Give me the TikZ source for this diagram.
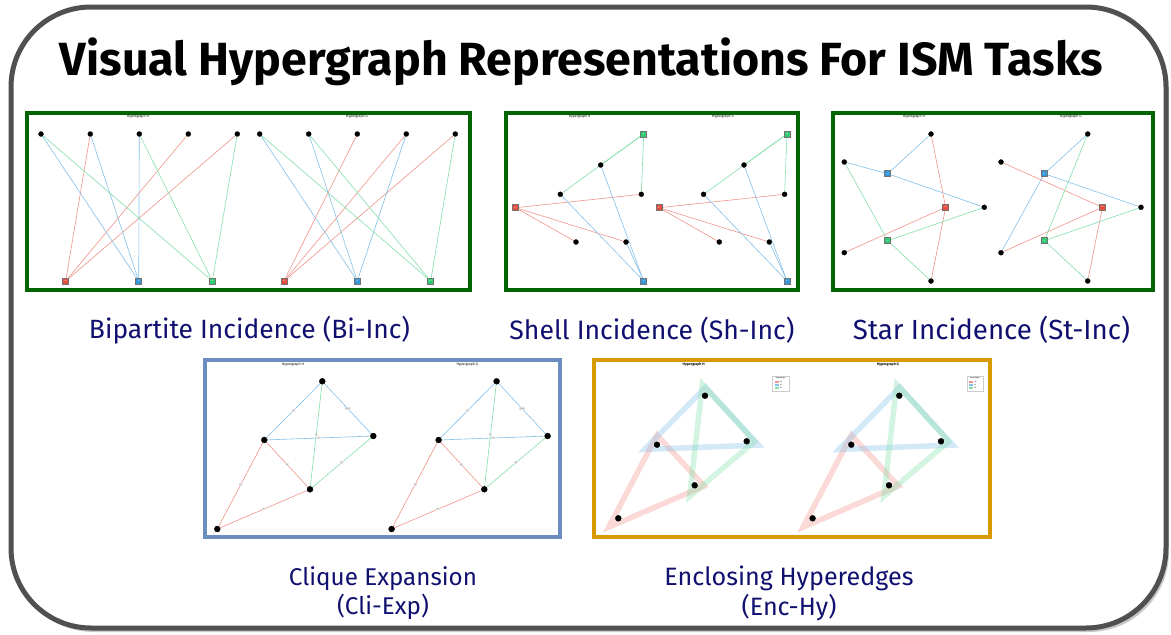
\documentclass[tikz,border=0pt]{standalone}
\usepackage{fontspec}
\setmainfont{Fira Sans}
\usetikzlibrary{shadows,calc}
\pgfdeclarelayer{back}
\pgfdeclarelayer{bg}
\pgfsetlayers{back,bg,main}
\definecolor{framegray}{RGB}{80,80,80}
\definecolor{navyc}{RGB}{16,16,112}
\definecolor{pgreen}{RGB}{0,100,0}
\definecolor{pblue}{RGB}{108,142,191}
\definecolor{porange}{RGB}{215,155,0}
\definecolor{ered}{RGB}{241,148,138}
\definecolor{eblue}{RGB}{133,193,233}
\definecolor{egreen}{RGB}{130,224,170}
\definecolor{sred}{RGB}{231,76,60}
\definecolor{sblue}{RGB}{52,152,219}
\definecolor{sgreen}{RGB}{46,204,113}
\tikzset{
  vtx/.style={circle,fill=black,draw=black,line width=0.3pt,inner sep=0pt,minimum size=5pt},
  bvtx/.style={vtx,minimum size=6pt},
  hsq/.style={rectangle,draw=black!55,line width=0.5pt,inner sep=0pt,minimum size=6pt,
              text=white,font=\fontsize{2}{2}\selectfont},
  ed/.style={line width=0.6pt},
  band/.style={line width=5.5pt,opacity=0.35,line join=miter},
  ptitle/.style={inner sep=0pt,font=\fontsize{3.5}{4}\selectfont},
  elab/.style={fill=gray!22,inner sep=0.5pt,text=gray,font=\fontsize{2}{2}\selectfont},
  lbl/.style={inner sep=0pt,text=navyc},
  panelG/.style={draw=pgreen,line width=4pt},
  panelB/.style={draw=pblue,line width=4pt},
  panelO/.style={draw=porange,line width=4pt},
  legbox/.style={draw=gray!40,line width=0.3pt,fill=white},
  legtxt/.style={inner sep=0pt,font=\fontsize{1.8}{2}\selectfont},
}
\begin{document}
\begin{tikzpicture}[x=1pt,y=-1pt]
\useasboundingbox (0,0) rectangle (1171,635);
% outer frame
\begin{pgfonlayer}{back}
\draw[line width=5pt,draw=framegray,fill=white,rounded corners=80pt,
      drop shadow={shadow xshift=3pt,shadow yshift=-4pt,opacity=0.3,fill=black!70}]
  (11,7) rectangle (1166,628);
\end{pgfonlayer}
% title
\node[inner sep=0pt] (title) at (581.5,62)
  {\resizebox{1043pt}{!}{\bfseries Visual Hypergraph Representations For ISM Tasks}};

% ---------------- Panel 1: Bi-Inc ----------------
\node[ptitle] (t1h) at (138,117) {Hypergraph H};
\node[ptitle] (t1g) at (357,117) {Hypergraph G};
\foreach \i/\x in {1/41,2/90.3,3/139.3,4/188.3,5/237.3}{\node[vtx] (h1v\i) at (\x,134) {};}
\foreach \i/\x in {1/259.7,2/308.7,3/357.3,4/406.3,5/455.3}{\node[vtx] (g1v\i) at (\x,134) {};}
\node[hsq,fill=sred]   (h1e0) at (65.7,281) {e0};
\node[hsq,fill=sblue]  (h1e1) at (138.7,281) {e1};
\node[hsq,fill=sgreen] (h1e2) at (212.3,281) {e2};
\node[hsq,fill=sred]   (g1e0) at (284,281) {e0};
\node[hsq,fill=sblue]  (g1e1) at (357.3,281) {e1};
\node[hsq,fill=sgreen] (g1e2) at (430.7,281) {e2};
\begin{pgfonlayer}{bg}
\foreach \v in {2,4,5}{\draw[ed,ered] (h1v\v) -- (h1e0);}
\foreach \v in {1,2,3}{\draw[ed,eblue] (h1v\v) -- (h1e1);}
\foreach \v in {1,3,5}{\draw[ed,egreen] (h1v\v) -- (h1e2);}
\foreach \v in {3,4,5}{\draw[ed,ered] (g1v\v) -- (g1e0);}
\foreach \v in {1,2,4}{\draw[ed,eblue] (g1v\v) -- (g1e1);}
\foreach \v in {1,2,5}{\draw[ed,egreen] (g1v\v) -- (g1e2);}
\end{pgfonlayer}
\draw[panelG] (27,113) rectangle (470,290);
\node[lbl] (lab1) at (249.5,330) {\resizebox{321pt}{!}{Bipartite Incidence (Bi-Inc)}};

% ---------------- Panel 2: Sh-Inc ----------------
\foreach \p/\dx/\T in {h/0/H,g/143.3/G}{
  \node[ptitle] (\p2t) at (579.7+\dx,117) {Hypergraph \T};
  \node[hsq,fill=sgreen] (\p2e2) at (643.7+\dx,134) {e2};
  \node[vtx] (\p2a) at (600.7+\dx,165) {};
  \node[vtx] (\p2b) at (560.3+\dx,194.3) {};
  \node[vtx] (\p2c) at (641.3+\dx,194.3) {};
  \node[hsq,fill=sred] (\p2e0) at (515.7+\dx,207.7) {e0};
  \node[vtx] (\p2d) at (576+\dx,242) {};
  \node[vtx] (\p2e) at (626+\dx,242) {};
  \node[hsq,fill=sblue] (\p2e1) at (643.7+\dx,281) {e1};
  \begin{pgfonlayer}{bg}
  \foreach \v in {a,b,c}{\draw[ed,egreen] (\p2e2) -- (\p2\v);}
  \foreach \v in {c,d,e}{\draw[ed,ered] (\p2e0) -- (\p2\v);}
  \foreach \v in {a,b,e}{\draw[ed,eblue] (\p2e1) -- (\p2\v);}
  \end{pgfonlayer}
}
\draw[panelG] (506,113) rectangle (798,290);
\node[lbl] (lab2) at (652,330) {\resizebox{285pt}{!}{Shell Incidence (Sh-Inc)}};

% ---------------- Panel 3: St-Inc ----------------
\foreach \p/\dx/\T in {h/0/H,g/156.7/G}{
  \node[ptitle] (\p3t) at (914+\dx,117) {Hypergraph \T};
  \node[vtx] (\p3n1) at (931+\dx,134) {};
  \node[vtx] (\p3n2) at (844.3+\dx,162) {};
  \node[hsq,fill=sblue] (\p3e1) at (887.7+\dx,173.7) {e1};
  \node[hsq,fill=sred] (\p3e0) at (945.7+\dx,207.3) {e0};
  \node[vtx] (\p3n3) at (984.3+\dx,207.3) {};
  \node[hsq,fill=sgreen] (\p3e2) at (887.7+\dx,240.7) {e2};
  \node[vtx] (\p3n4) at (844.3+\dx,252.7) {};
  \node[vtx] (\p3n5) at (931+\dx,281) {};
}
\begin{pgfonlayer}{bg}
\foreach \v in {1,2,3}{\draw[ed,eblue] (h3e1) -- (h3n\v);}
\foreach \v in {1,4,5}{\draw[ed,ered] (h3e0) -- (h3n\v);}
\foreach \v in {2,3,5}{\draw[ed,egreen] (h3e2) -- (h3n\v);}
\foreach \v in {1,3,4}{\draw[ed,eblue] (g3e1) -- (g3n\v);}
\foreach \v in {2,4,5}{\draw[ed,ered] (g3e0) -- (g3n\v);}
\foreach \v in {1,3,5}{\draw[ed,egreen] (g3e2) -- (g3n\v);}
\end{pgfonlayer}
\draw[panelG] (833,113) rectangle (1153,290);
\node[lbl] (lab3) at (991.5,330) {\resizebox{277pt}{!}{Star Incidence (St-Inc)}};

% ---------------- Panel 4: Cli-Exp ----------------
\foreach \p/\dx/\T in {h/0/H,g/174.3/G}{
  \node[ptitle] (\p4t) at (293+\dx,364.3) {Hypergraph \T};
  \node[bvtx] (\p4A) at (322.3+\dx,381.3) {};
  \node[bvtx] (\p4B) at (264.3+\dx,440) {};
  \node[bvtx] (\p4C) at (373.3+\dx,436) {};
  \node[bvtx] (\p4D) at (310+\dx,489.3) {};
  \node[bvtx] (\p4E) at (217.3+\dx,529) {};
  \begin{pgfonlayer}{bg}
  \draw[ed,eblue] (\p4A) -- node[elab] {e1} (\p4B);
  \draw[ed,eblue] (\p4A) -- node[elab] {e1,e2} (\p4C);
  \draw[ed,eblue] (\p4B) -- node[elab] {e1} (\p4C);
  \draw[ed,egreen] (\p4A) -- node[elab] {e2} (\p4D);
  \draw[ed,egreen] (\p4C) -- node[elab] {e2} (\p4D);
  \draw[ed,ered] (\p4B) -- node[elab] {e0} (\p4D);
  \draw[ed,ered] (\p4B) -- node[elab] {e0} (\p4E);
  \draw[ed,ered] (\p4D) -- node[elab] {e0} (\p4E);
  \end{pgfonlayer}
}
\draw[panelB] (205,360) rectangle (560,537);
\node[lbl] (lab4) at (383,594.5) {\resizebox{188pt}{!}{\begin{tabular}{@{}c@{}}Clique Expansion\\(Cli-Exp)\end{tabular}}};

% ---------------- Panel 5: Enc-Hy ----------------
\foreach \p/\dx/\T in {h/0/H,g/194.3/G}{
  \node[ptitle,font=\fontsize{3.5}{4}\selectfont\bfseries] (\p5t) at (693.7+\dx,364.3) {Hypergraph \T};
  \node[bvtx] (\p5A) at (705+\dx,395.7) {};
  \node[bvtx] (\p5B) at (657+\dx,444.7) {};
  \node[bvtx] (\p5C) at (746.7+\dx,441.3) {};
  \node[bvtx] (\p5D) at (694.7+\dx,485.3) {};
  \node[bvtx] (\p5E) at (618.3+\dx,518.3) {};
  \draw[legbox] (772.5+\dx,376) rectangle (789+\dx,391);
  \node[legtxt] (\p5lt) at (780.7+\dx,378.3) {Hyperedges};
  \fill[ered]   (774.5+\dx,381) rectangle (778.5+\dx,382.6);
  \fill[eblue]  (774.5+\dx,384) rectangle (778.5+\dx,385.6);
  \fill[egreen] (774.5+\dx,387) rectangle (778.5+\dx,388.6);
  \node[legtxt,anchor=west] (\p5l0) at (780+\dx,381.8) {e0};
  \node[legtxt,anchor=west] (\p5l1) at (780+\dx,384.8) {e1};
  \node[legtxt,anchor=west] (\p5l2) at (780+\dx,387.8) {e2};
}
\begin{pgfonlayer}{bg}
\foreach \p in {h,g}{
  \coordinate (\p5c0) at ($0.3333*(\p5B)+0.3333*(\p5D)+0.3334*(\p5E)$);
  \coordinate (\p5c1) at ($0.3333*(\p5A)+0.3333*(\p5B)+0.3334*(\p5C)$);
  \coordinate (\p5c2) at ($0.3333*(\p5A)+0.3333*(\p5C)+0.3334*(\p5D)$);
  \draw[band,ered] ($(\p5c0)!1.25!(\p5B)$) -- ($(\p5c0)!1.25!(\p5D)$) -- ($(\p5c0)!1.25!(\p5E)$) -- cycle;
  \draw[band,eblue] ($(\p5c1)!1.27!(\p5A)$) -- ($(\p5c1)!1.27!(\p5B)$) -- ($(\p5c1)!1.27!(\p5C)$) -- cycle;
  \draw[band,egreen] ($(\p5c2)!1.25!(\p5A)$) -- ($(\p5c2)!1.25!(\p5C)$) -- ($(\p5c2)!1.25!(\p5D)$) -- cycle;
}
\end{pgfonlayer}
\draw[panelO] (594,360) rectangle (990,537);
\node[lbl] (lab5) at (789,594.5) {\resizebox{249pt}{!}{\begin{tabular}{@{}c@{}}Enclosing Hyperedges\\(Enc-Hy)\end{tabular}}};
\end{tikzpicture}
\end{document}
